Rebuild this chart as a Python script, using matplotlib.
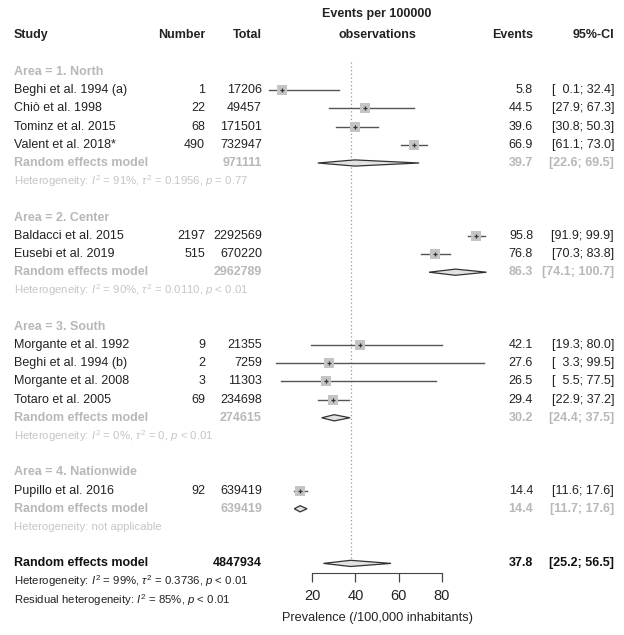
import matplotlib.pyplot as plt
from matplotlib import transforms

plt.rcParams['font.family'] = ['Liberation Sans', 'DejaVu Sans']
plt.rcParams['mathtext.fontset'] = 'custom'
plt.rcParams['mathtext.rm'] = 'Liberation Sans'
plt.rcParams['mathtext.it'] = 'Liberation Sans:italic'
plt.rcParams['mathtext.bf'] = 'Liberation Sans:bold'

# study data
studies = ['Beghi et al. 1994 (a)', 'Chiò et al. 1998', 'Tominz et al. 2015', 'Valent et al. 2018*',
           'Baldacci et al. 2015', 'Eusebi et al. 2019',
           'Morgante et al. 1992', 'Beghi et al. 1994 (b)', 'Morgante et al. 2008', 'Totaro et al. 2005',
           'Pupillo et al. 2016']
study_area = [0, 0, 0, 0, 1, 1, 2, 2, 2, 2, 3]
number = [1, 22, 68, 490, 2197, 515, 9, 2, 3, 69, 92]
total = [17206, 49457, 171501, 732947, 2292569, 670220, 21355, 7259, 11303, 234698, 639419]
events = [5.8, 44.5, 39.6, 66.9, 95.8, 76.8, 42.1, 27.6, 26.5, 29.4, 14.4]
ci_lo = [0.1, 27.9, 30.8, 61.1, 91.9, 70.3, 19.3, 3.3, 5.5, 22.9, 11.6]
ci_hi = [32.4, 67.3, 50.3, 73.0, 99.9, 83.8, 80.0, 99.5, 77.5, 37.2, 17.6]

# subgroups
areas = ['Area = 1. North', 'Area = 2. Center', 'Area = 3. South', 'Area = 4. Nationwide']
area_total = [971111, 2962789, 274615, 639419]
area_est = [39.7, 86.3, 30.2, 14.4]
area_lo = [22.6, 74.1, 24.4, 11.7]
area_hi = [69.5, 100.7, 37.5, 17.6]
area_het = [r'Heterogeneity: $I^2$ = 91%, $\tau^2$ = 0.1956, $p$ = 0.77',
            r'Heterogeneity: $I^2$ = 90%, $\tau^2$ = 0.0110, $p$ < 0.01',
            r'Heterogeneity: $I^2$ = 0%, $\tau^2$ = 0, $p$ < 0.01',
            'Heterogeneity: not applicable']

# overall
overall_total = 4847934
overall_est, overall_lo, overall_hi = 37.8, 25.2, 56.5
overall_het = [r'Heterogeneity: $I^2$ = 99%, $\tau^2$ = 0.3736, $p$ < 0.01',
               r'Residual heterogeneity: $I^2$ = 85%, $p$ < 0.01']
xticks = [20, 40, 60, 80]

W, H = 624, 635
fig = plt.figure(figsize=(W / 100, H / 100), dpi=100)
ax = fig.add_axes([0, 0, 1, 1])
# pixel geometry: value 0 at x=269 px, 2.16 px per unit; row 1 at y=72 px, 18.2 px per row
ax.set_xlim(-269 / 2.16, (W - 269) / 2.16)
ax.set_ylim(1 + (H - 72) / 18.2, 1 - 72 / 18.2)
for s in ['top', 'left', 'right']:
    ax.spines[s].set_visible(False)
ax.patch.set_visible(False)
ax.set_yticks([])

tr = transforms.blended_transform_factory(fig.transFigure, ax.transData)
def px(x):
    return x / W
def row(y):
    return 1 + (y - 72) / 18.2

blk = '#222222'
grp = '#b8b8b8'
het = '#c6c6c6'
fs = 9
hfs = 8.2

def ci_str(lo, hi):
    # pad with figure spaces like R does
    a = f'{lo:.1f}'.rjust(4, '\u2007')
    b = f'{hi:.1f}'.rjust(4, '\u2007')
    return f'[{a}; {b}]'

def row_text(k, name, num, tot, est, lo, hi, color, weight='normal'):
    kw = dict(transform=tr, va='center', fontsize=fs, color=color, fontweight=weight)
    ax.text(px(14), k, name, ha='left', **kw)
    if num is not None:
        ax.text(px(205), k, str(num), ha='right', **kw)
    ax.text(px(262), k, str(tot), ha='right', **kw)
    ax.text(px(533), k, f'{est:.1f}', ha='right', **kw)
    ax.text(px(614), k, ci_str(lo, hi), ha='right', **kw)

def diamond(k, est, lo, hi):
    h = 0.17
    ax.fill([lo, est, hi, est, lo], [k, k - h, k, k + h, k], facecolor='#e2e2e2',
            edgecolor='#333333', linewidth=0.9, zorder=3)

# headers
hy = row(35)
hkw = dict(transform=tr, va='center', fontsize=fs, fontweight='bold', color=blk)
ax.text(px(14), hy, 'Study', ha='left', **hkw)
ax.text(px(205), hy, 'Number', ha='right', **hkw)
ax.text(px(262), hy, 'Total', ha='right', **hkw)
ax.text(px(377), row(14), 'Events per 100000', ha='center', **hkw)
ax.text(px(377), hy, 'observations', ha='center', **hkw)
ax.text(px(533), hy, 'Events', ha='right', **hkw)
ax.text(px(614), hy, '95%-CI', ha='right', **hkw)

# reference line at overall estimate
ax.plot([overall_est, overall_est], [0.45, 28], color='#999999', linestyle=(0, (1, 2)), linewidth=0.9, zorder=1)

k = 1
for a in range(len(areas)):
    ax.text(px(14), k, areas[a], transform=tr, ha='left', va='center', fontsize=fs,
            fontweight='bold', color=grp)
    k += 1
    for i in range(len(studies)):
        if study_area[i] != a:
            continue
        row_text(k, studies[i], number[i], total[i], events[i], ci_lo[i], ci_hi[i], blk)
        ax.plot([ci_lo[i], ci_hi[i]], [k, k], color='#555555', linewidth=1.0, zorder=2)
        ax.plot(events[i], k, marker='s', markersize=6.5, color='#c4c4c4', markeredgewidth=0, zorder=3)
        ax.plot(events[i], k, marker='+', markersize=3.5, color='#333333', markeredgewidth=0.9, zorder=4)
        k += 1
    row_text(k, 'Random effects model', None, area_total[a], area_est[a], area_lo[a], area_hi[a],
             grp, 'bold')
    diamond(k, area_est[a], area_lo[a], area_hi[a])
    k += 1
    ax.text(px(14), k, area_het[a], transform=tr, ha='left', va='center', fontsize=hfs, color=het)
    k += 2

row_text(k, 'Random effects model', None, overall_total, overall_est, overall_lo, overall_hi, '#111111', 'bold')
diamond(k, overall_est, overall_lo, overall_hi)
for j, t in enumerate(overall_het):
    ax.text(px(14), k + 1 + j, t, transform=tr, ha='left', va='center', fontsize=hfs, color=blk)

# x axis
ax.spines['bottom'].set_position(('data', row(573)))
ax.spines['bottom'].set_bounds(xticks[0], xticks[-1])
ax.spines['bottom'].set_color('#444444')
ax.set_xticks(xticks)
ax.tick_params(axis='x', direction='out', length=6.5, width=0.9, color='#444444',
               labelsize=10.5, labelcolor=blk, pad=5)
ax.text(50, row(618), 'Prevalence (/100,000 inhabitants)', ha='center', va='center',
        fontsize=9.2, color=blk)

fig.savefig('out.png', dpi=100)
